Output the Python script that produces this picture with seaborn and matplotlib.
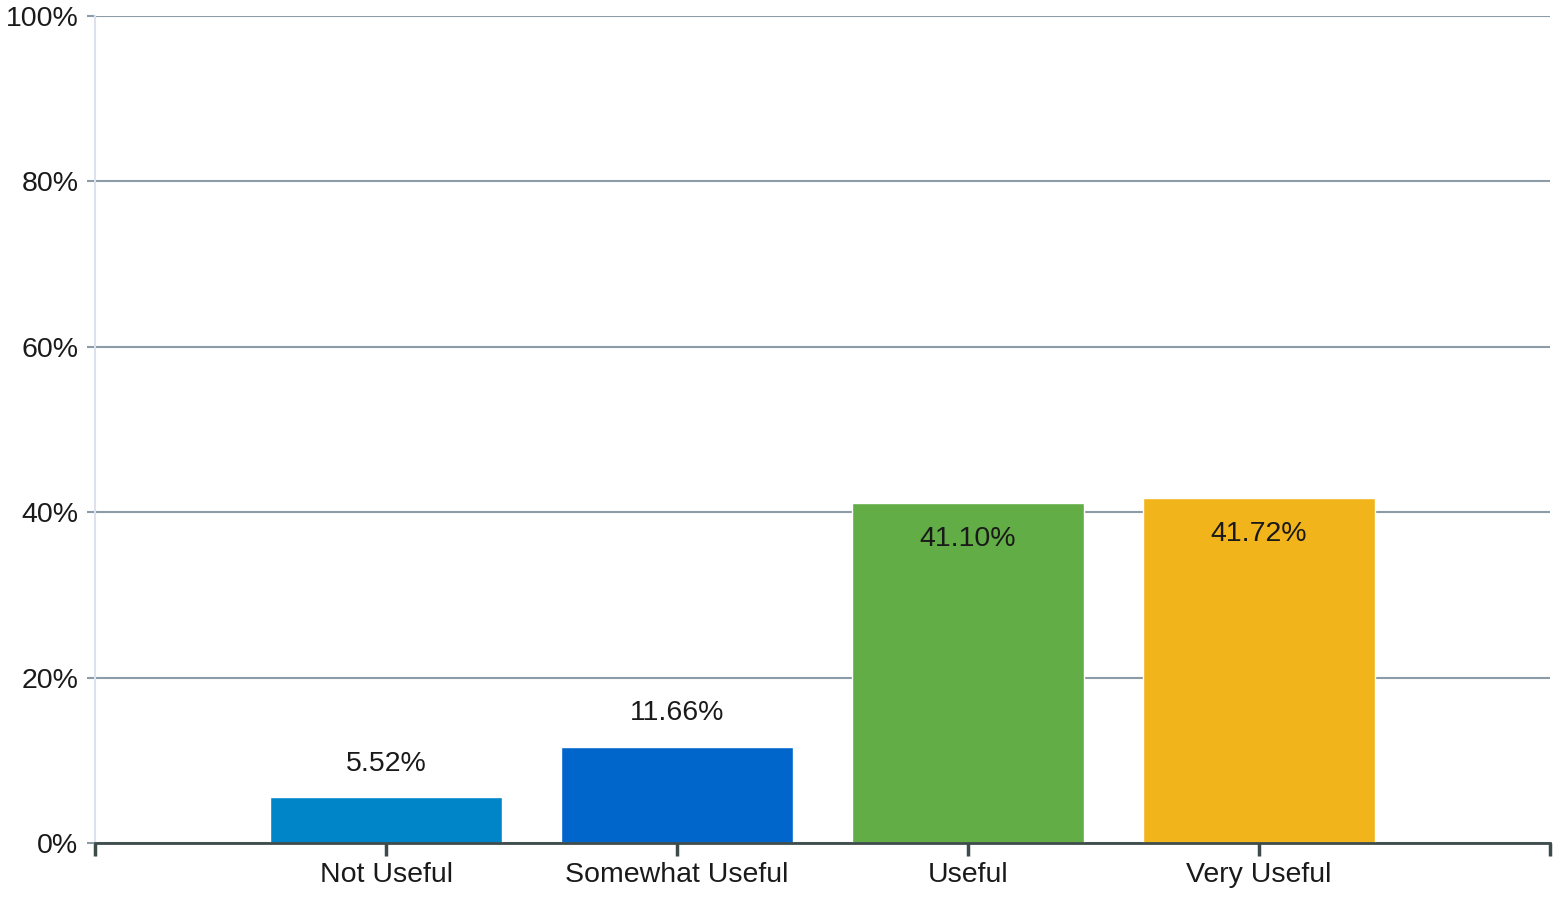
import matplotlib
matplotlib.use("Agg")
import matplotlib.pyplot as plt
import seaborn as sns
import pandas as pd
from matplotlib.ticker import FuncFormatter

categories = ["Not Useful", "Somewhat Useful", "Useful", "Very Useful"]
percentages = [5.52, 11.66, 41.10, 41.72]
bar_colors = ["#0086C8", "#0066CC", "#62AD45", "#F2B41B"]
y_ticks = [0, 20, 40, 60, 80, 100]

sns.set_theme(style="white")
plt.rcParams["font.family"] = ["Liberation Sans", "DejaVu Sans"]

df = pd.DataFrame({"category": categories, "pct": percentages})

fig = plt.figure(figsize=(15.54, 8.99), dpi=100)
ax = fig.add_axes([95 / 1554, 1 - 843 / 899, 1455 / 1554, 827 / 899])

# Place the four categories at 1..4 with an empty slot at each end
df["pos"] = range(1, len(categories) + 1)
sns.barplot(data=df, x="pos", y="pct", hue="category", palette=bar_colors,
            native_scale=True, width=0.8, legend=False, ax=ax, saturation=1)

ax.set_xlim(0, len(categories) + 1)
ax.set_ylim(0, 100)
ax.set_xlabel("")
ax.set_ylabel("")

ax.set_yticks(y_ticks)
ax.yaxis.set_major_formatter(FuncFormatter(lambda v, _: f"{v:.0f}%"))
ax.set_xticks([0] + list(df["pos"]) + [len(categories) + 1])
ax.set_xticklabels([""] + categories + [""])

ax.yaxis.grid(True, color="#8C9BA8", linewidth=1.5)
ax.set_axisbelow(True)

for side in ("top", "right"):
    ax.spines[side].set_visible(False)
ax.spines["left"].set_color("#DDE1EE")
ax.spines["left"].set_linewidth(1.5)
ax.spines["bottom"].set_color("#3E4B4B")
ax.spines["bottom"].set_linewidth(2)

ax.tick_params(axis="x", direction="out", length=9, width=2.5, color="#3E4B4B",
               labelsize=20.5, labelcolor="#1a1a1a", pad=5, bottom=True)
ax.tick_params(axis="y", direction="out", length=6, width=1.5, color="#8C9BA8",
               labelsize=20.5, labelcolor="#1a1a1a", pad=6, left=True)

# Value labels: above short bars, just inside the top of tall bars
for pos, val in zip(df["pos"], df["pct"]):
    if val > 30:
        ax.annotate(f"{val:.2f}%", (pos, val), xytext=(0, -26), textcoords="offset points",
                    ha="center", va="center", fontsize=20.5, color="#1a1a1a")
    else:
        ax.annotate(f"{val:.2f}%", (pos, val), xytext=(0, 24), textcoords="offset points",
                    ha="center", va="center", fontsize=20.5, color="#1a1a1a")

fig.savefig("out.png", dpi=100, facecolor="white")
